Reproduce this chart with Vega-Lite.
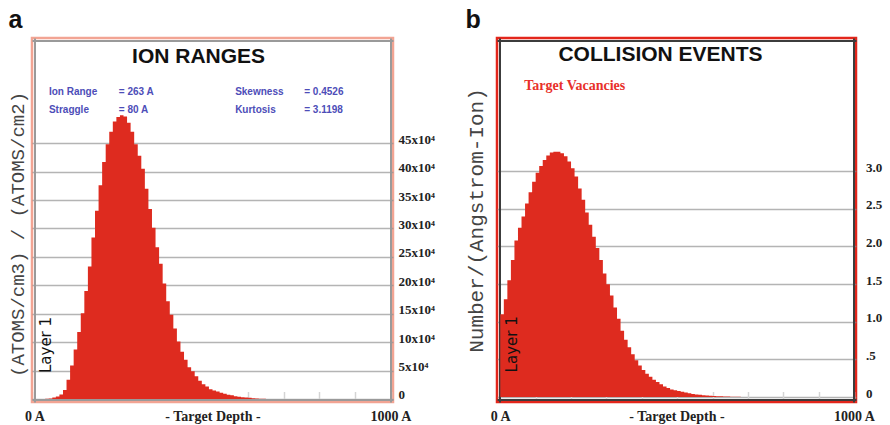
{
  "$schema": "https://vega.github.io/schema/vega-lite/v6.json",
  "background": "white",
  "padding": {"left": 7, "top": 6, "right": 0, "bottom": 0},
  "spacing": 28,
  "config": {"axis": {"zindex": 1, "minExtent": 0}},
  "datasets": {
    "ions": [
      {"depth": 0, "value": 0}, {"depth": 10, "value": 0}, {"depth": 20, "value": 0}, {"depth": 30, "value": 0.03},
      {"depth": 40, "value": 0.1}, {"depth": 50, "value": 0.25}, {"depth": 60, "value": 0.45}, {"depth": 70, "value": 0.8},
      {"depth": 80, "value": 1.6}, {"depth": 90, "value": 3.4}, {"depth": 100, "value": 5.9}, {"depth": 110, "value": 8.7},
      {"depth": 120, "value": 11.8}, {"depth": 130, "value": 15.1}, {"depth": 140, "value": 19.0}, {"depth": 150, "value": 23.3},
      {"depth": 160, "value": 28.4}, {"depth": 170, "value": 33.1}, {"depth": 180, "value": 37.6}, {"depth": 190, "value": 41.7},
      {"depth": 200, "value": 44.8}, {"depth": 210, "value": 47.0}, {"depth": 220, "value": 48.8}, {"depth": 230, "value": 49.6},
      {"depth": 240, "value": 49.9}, {"depth": 250, "value": 49.7}, {"depth": 260, "value": 48.6}, {"depth": 270, "value": 47.0},
      {"depth": 280, "value": 44.8}, {"depth": 290, "value": 42.8}, {"depth": 300, "value": 40.5}, {"depth": 310, "value": 37.0},
      {"depth": 320, "value": 33.4}, {"depth": 330, "value": 30.1}, {"depth": 340, "value": 26.7}, {"depth": 350, "value": 23.8},
      {"depth": 360, "value": 20.3}, {"depth": 370, "value": 17.2}, {"depth": 380, "value": 14.8}, {"depth": 390, "value": 12.4},
      {"depth": 400, "value": 10.1}, {"depth": 410, "value": 8.3}, {"depth": 420, "value": 6.9}, {"depth": 430, "value": 5.6},
      {"depth": 440, "value": 4.9}, {"depth": 450, "value": 4.0}, {"depth": 460, "value": 3.2}, {"depth": 470, "value": 2.6},
      {"depth": 480, "value": 2.2}, {"depth": 490, "value": 1.7}, {"depth": 500, "value": 1.5}, {"depth": 510, "value": 1.3},
      {"depth": 520, "value": 1.1}, {"depth": 530, "value": 0.9}, {"depth": 540, "value": 0.75}, {"depth": 550, "value": 0.65},
      {"depth": 560, "value": 0.5}, {"depth": 570, "value": 0.4}, {"depth": 580, "value": 0.3}, {"depth": 590, "value": 0.25},
      {"depth": 600, "value": 0.2}, {"depth": 610, "value": 0.15}, {"depth": 620, "value": 0.1}, {"depth": 630, "value": 0.06},
      {"depth": 640, "value": 0.03}, {"depth": 650, "value": 0}, {"depth": 660, "value": 0}, {"depth": 670, "value": 0},
      {"depth": 680, "value": 0}, {"depth": 690, "value": 0}, {"depth": 700, "value": 0}, {"depth": 710, "value": 0},
      {"depth": 720, "value": 0}, {"depth": 730, "value": 0}, {"depth": 740, "value": 0}, {"depth": 750, "value": 0},
      {"depth": 760, "value": 0}, {"depth": 770, "value": 0}, {"depth": 780, "value": 0}, {"depth": 790, "value": 0},
      {"depth": 800, "value": 0}, {"depth": 810, "value": 0}, {"depth": 820, "value": 0}, {"depth": 830, "value": 0},
      {"depth": 840, "value": 0}, {"depth": 850, "value": 0}, {"depth": 860, "value": 0}, {"depth": 870, "value": 0},
      {"depth": 880, "value": 0}, {"depth": 890, "value": 0}, {"depth": 900, "value": 0}, {"depth": 910, "value": 0},
      {"depth": 920, "value": 0}, {"depth": 930, "value": 0}, {"depth": 940, "value": 0}, {"depth": 950, "value": 0},
      {"depth": 960, "value": 0}, {"depth": 970, "value": 0}, {"depth": 980, "value": 0}, {"depth": 990, "value": 0},
      {"depth": 1000, "value": 0}
    ],
    "vac": [
      {"depth": 0, "value": 1.1}, {"depth": 10, "value": 1.3}, {"depth": 20, "value": 1.55}, {"depth": 30, "value": 1.82},
      {"depth": 40, "value": 2.08}, {"depth": 50, "value": 2.25}, {"depth": 60, "value": 2.40}, {"depth": 70, "value": 2.57},
      {"depth": 80, "value": 2.72}, {"depth": 90, "value": 2.86}, {"depth": 100, "value": 2.98}, {"depth": 110, "value": 3.07},
      {"depth": 120, "value": 3.15}, {"depth": 130, "value": 3.21}, {"depth": 140, "value": 3.25}, {"depth": 150, "value": 3.26},
      {"depth": 160, "value": 3.26}, {"depth": 170, "value": 3.24}, {"depth": 180, "value": 3.20}, {"depth": 190, "value": 3.13},
      {"depth": 200, "value": 3.04}, {"depth": 210, "value": 2.93}, {"depth": 220, "value": 2.77}, {"depth": 230, "value": 2.62},
      {"depth": 240, "value": 2.45}, {"depth": 250, "value": 2.29}, {"depth": 260, "value": 2.13}, {"depth": 270, "value": 1.98},
      {"depth": 280, "value": 1.82}, {"depth": 290, "value": 1.64}, {"depth": 300, "value": 1.50}, {"depth": 310, "value": 1.35},
      {"depth": 320, "value": 1.19}, {"depth": 330, "value": 1.04}, {"depth": 340, "value": 0.88}, {"depth": 350, "value": 0.76},
      {"depth": 360, "value": 0.66}, {"depth": 370, "value": 0.57}, {"depth": 380, "value": 0.49}, {"depth": 390, "value": 0.42},
      {"depth": 400, "value": 0.36}, {"depth": 410, "value": 0.31}, {"depth": 420, "value": 0.27}, {"depth": 430, "value": 0.23},
      {"depth": 440, "value": 0.20}, {"depth": 450, "value": 0.17}, {"depth": 460, "value": 0.14}, {"depth": 470, "value": 0.12},
      {"depth": 480, "value": 0.10}, {"depth": 490, "value": 0.09}, {"depth": 500, "value": 0.08}, {"depth": 510, "value": 0.07},
      {"depth": 520, "value": 0.06}, {"depth": 530, "value": 0.05}, {"depth": 540, "value": 0.04}, {"depth": 550, "value": 0.035},
      {"depth": 560, "value": 0.03}, {"depth": 570, "value": 0.025}, {"depth": 580, "value": 0.02}, {"depth": 590, "value": 0.018},
      {"depth": 600, "value": 0.015}, {"depth": 610, "value": 0.012}, {"depth": 620, "value": 0.01}, {"depth": 630, "value": 0.008},
      {"depth": 640, "value": 0.006}, {"depth": 650, "value": 0.005}, {"depth": 660, "value": 0.004}, {"depth": 670, "value": 0.003},
      {"depth": 680, "value": 0}, {"depth": 690, "value": 0}, {"depth": 700, "value": 0}, {"depth": 710, "value": 0},
      {"depth": 720, "value": 0}, {"depth": 730, "value": 0}, {"depth": 740, "value": 0}, {"depth": 750, "value": 0},
      {"depth": 760, "value": 0}, {"depth": 770, "value": 0}, {"depth": 780, "value": 0}, {"depth": 790, "value": 0},
      {"depth": 800, "value": 0}, {"depth": 810, "value": 0}, {"depth": 820, "value": 0}, {"depth": 830, "value": 0},
      {"depth": 840, "value": 0}, {"depth": 850, "value": 0}, {"depth": 860, "value": 0}, {"depth": 870, "value": 0},
      {"depth": 880, "value": 0}, {"depth": 890, "value": 0}, {"depth": 900, "value": 0}, {"depth": 910, "value": 0},
      {"depth": 920, "value": 0}, {"depth": 930, "value": 0}, {"depth": 940, "value": 0}, {"depth": 950, "value": 0},
      {"depth": 960, "value": 0}, {"depth": 970, "value": 0}, {"depth": 980, "value": 0}, {"depth": 990, "value": 0},
      {"depth": 1000, "value": 0}
    ]
  },
  "hconcat": [
    {
      "width": 361,
      "height": 364,
      "title": {"text": "a", "anchor": "start", "frame": "bounds", "font": "Liberation Sans", "fontSize": 25, "fontWeight": "bold", "color": "#111111", "baseline": "alphabetic", "offset": -15},
      "view": {"stroke": "#f2a493", "strokeWidth": 2.5, "fill": "white"},
      "resolve": {"axis": {"x": "independent", "y": "independent"}},
      "layer": [
        {
          "data": {"name": "ions"},
          "mark": {"type": "area", "interpolate": "step-after", "color": "#de2b1f"},
          "encoding": {
            "x": {"field": "depth", "type": "quantitative",
              "scale": {"domain": [-7, 1007], "nice": false, "zero": false},
              "axis": {"orient": "bottom", "offset": -2.5, "values": [0, 100, 200, 300, 400, 500, 600, 700, 800, 900, 1000],
                "domainColor": "#9a9a9a", "domainWidth": 2, "tickSize": -8, "tickColor": "#d4d4d4", "tickWidth": 1.5,
                "labelExpr": "datum.value == 0 ? '0 A' : datum.value == 1000 ? '1000 A' : ''",
                "labelFont": "Liberation Serif", "labelFontWeight": "bold", "labelFontSize": 14, "labelColor": "#222222",
                "labelPadding": 18, "labelFlush": false, "labelOverlap": false, "labelBaseline": "top", "grid": false,
                "title": "- Target Depth -", "titleFont": "Liberation Serif", "titleFontWeight": "bold", "titleFontSize": 14,
                "titleColor": "#222222", "titleY": 10, "titleBaseline": "top"}},
            "y": {"field": "value", "type": "quantitative",
              "scale": {"domain": [-0.53, 63.5], "nice": false, "zero": false},
              "axis": {"orient": "right", "offset": -2.5, "values": [0, 5, 10, 15, 20, 25, 30, 35, 40, 45],
                "grid": true, "gridColor": "#8c8c8c", "gridOpacity": 0.65, "gridWidth": 1.5, "ticks": false,
                "domainColor": "#9a9a9a", "domainWidth": 2,
                "labelExpr": "datum.value == 0 ? '0' : datum.value + 'x10⁴'",
                "labelFont": "Liberation Serif", "labelFontWeight": "bold", "labelFontSize": 13, "labelColor": "#222222",
                "labelPadding": 7.5, "labelBaseline": "alphabetic", "labelOverlap": false, "title": null}}
          }
        },
        {
          "data": {"values": [{}]},
          "mark": {"type": "text", "text": "ION RANGES", "font": "Liberation Sans", "fontSize": 21, "fontWeight": "bold", "color": "#111111", "align": "center", "baseline": "middle"},
          "encoding": {
            "x": {"datum": 461, "type": "quantitative",
              "axis": {"orient": "top", "offset": -2.5, "domainColor": "#9a9a9a", "domainWidth": 2, "ticks": false, "labels": false, "grid": false, "title": null, "minExtent": 0, "maxExtent": 0}},
            "y": {"datum": 60.1, "type": "quantitative",
              "axis": {"orient": "left", "offset": -2.5, "domainColor": "#9a9a9a", "domainWidth": 2, "ticks": false, "labels": false, "grid": false,
                "title": "(ATOMS/cm3) / (ATOMS/cm2)", "titleFont": "Liberation Mono", "titleFontSize": 19, "titleFontWeight": "normal",
                "titleColor": "#444444", "titlePadding": 7, "titleY": 196}}
          }
        },
        {
          "data": {"values": [{}]},
          "mark": {"type": "text", "text": ["Ion Range", "Straggle"], "lineHeight": 18, "font": "Liberation Sans", "fontSize": 10, "fontWeight": "bold", "color": "#4d4db8", "align": "left", "baseline": "middle"},
          "encoding": {"x": {"datum": 40.6, "type": "quantitative", "axis": null}, "y": {"datum": 54.0, "type": "quantitative", "axis": null}}
        },
        {
          "data": {"values": [{}]},
          "mark": {"type": "text", "text": ["=  263 A", "=  80 A"], "lineHeight": 18, "font": "Liberation Sans", "fontSize": 10, "fontWeight": "bold", "color": "#4d4db8", "align": "left", "baseline": "middle"},
          "encoding": {"x": {"datum": 236.7, "type": "quantitative", "axis": null}, "y": {"datum": 54.0, "type": "quantitative", "axis": null}}
        },
        {
          "data": {"values": [{}]},
          "mark": {"type": "text", "text": ["Skewness", "Kurtosis"], "lineHeight": 18, "font": "Liberation Sans", "fontSize": 10, "fontWeight": "bold", "color": "#4d4db8", "align": "left", "baseline": "middle"},
          "encoding": {"x": {"datum": 563.6, "type": "quantitative", "axis": null}, "y": {"datum": 54.0, "type": "quantitative", "axis": null}}
        },
        {
          "data": {"values": [{}]},
          "mark": {"type": "text", "text": ["= 0.4526", "= 3.1198"], "lineHeight": 18, "font": "Liberation Sans", "fontSize": 10, "fontWeight": "bold", "color": "#4d4db8", "align": "left", "baseline": "middle"},
          "encoding": {"x": {"datum": 757.7, "type": "quantitative", "axis": null}, "y": {"datum": 54.0, "type": "quantitative", "axis": null}}
        },
        {
          "data": {"values": [{}]},
          "mark": {"type": "text", "text": "Layer 1", "angle": 270, "font": "DejaVu Sans", "fontSize": 15, "color": "#111111", "align": "center", "baseline": "middle"},
          "encoding": {"x": {"datum": 33.6, "type": "quantitative", "axis": null}, "y": {"datum": 9.5, "type": "quantitative", "axis": null}}
        }
      ]
    },
    {
      "width": 359,
      "height": 364,
      "title": {"text": "b", "anchor": "start", "frame": "bounds", "font": "Liberation Sans", "fontSize": 25, "fontWeight": "bold", "color": "#111111", "baseline": "alphabetic", "offset": -15},
      "view": {"stroke": "#e3261b", "strokeWidth": 2.5, "fill": "white"},
      "resolve": {"axis": {"x": "independent", "y": "independent"}},
      "layer": [
        {
          "data": {"name": "vac"},
          "mark": {"type": "area", "interpolate": "step-after", "color": "#de2b1f"},
          "encoding": {
            "x": {"field": "depth", "type": "quantitative",
              "scale": {"domain": [-9.3, 1005.6], "nice": false, "zero": false},
              "axis": {"orient": "bottom", "offset": -2.5, "values": [0, 100, 200, 300, 400, 500, 600, 700, 800, 900, 1000],
                "domainColor": "#3c3c3c", "domainWidth": 2, "tickSize": -8, "tickColor": "#d4d4d4", "tickWidth": 1.5,
                "labelExpr": "datum.value == 0 ? '0 A' : datum.value == 1000 ? '1000 A' : ''",
                "labelFont": "Liberation Serif", "labelFontWeight": "bold", "labelFontSize": 14, "labelColor": "#222222",
                "labelPadding": 18, "labelFlush": false, "labelOverlap": false, "labelBaseline": "top", "grid": false,
                "title": "- Target Depth -", "titleFont": "Liberation Serif", "titleFontWeight": "bold", "titleFontSize": 14,
                "titleColor": "#222222", "titleY": 10, "titleBaseline": "top"}},
            "y": {"field": "value", "type": "quantitative",
              "scale": {"domain": [-0.066, 4.77], "nice": false, "zero": false},
              "axis": {"orient": "right", "offset": -2.5, "values": [0, 0.5, 1, 1.5, 2, 2.5, 3],
                "grid": true, "gridColor": "#8c8c8c", "gridOpacity": 0.65, "gridWidth": 1.5, "ticks": false,
                "domainColor": "#3c3c3c", "domainWidth": 2,
                "labelExpr": "datum.value == 0 ? '0' : datum.value == 0.5 ? '.5' : format(datum.value, '.1f')",
                "labelFont": "Liberation Serif", "labelFontWeight": "bold", "labelFontSize": 13, "labelColor": "#222222",
                "labelPadding": 12, "labelBaseline": "alphabetic", "labelOverlap": false, "title": null}}
          }
        },
        {
          "data": {"values": [{}]},
          "mark": {"type": "text", "text": "COLLISION EVENTS", "font": "Liberation Sans", "fontSize": 21, "fontWeight": "bold", "color": "#111111", "align": "center", "baseline": "middle"},
          "encoding": {
            "x": {"datum": 453, "type": "quantitative",
              "axis": {"orient": "top", "offset": -2.5, "domainColor": "#3c3c3c", "domainWidth": 2, "ticks": false, "labels": false, "grid": false, "title": null, "minExtent": 0, "maxExtent": 0}},
            "y": {"datum": 4.54, "type": "quantitative",
              "axis": {"orient": "left", "offset": -2.5, "domainColor": "#3c3c3c", "domainWidth": 2, "ticks": false, "labels": false, "grid": false,
                "title": "Number/(Angstrom-Ion)", "titleFont": "Liberation Mono", "titleFontSize": 21, "titleFontWeight": "normal",
                "titleColor": "#444444", "titlePadding": 13}}
          }
        },
        {
          "data": {"values": [{}]},
          "mark": {"type": "text", "text": "Target Vacancies", "font": "Liberation Serif", "fontSize": 14, "fontWeight": "bold", "color": "#e8302a", "align": "left", "baseline": "middle"},
          "encoding": {"x": {"datum": 67.8, "type": "quantitative", "axis": null}, "y": {"datum": 4.13, "type": "quantitative", "axis": null}}
        },
        {
          "data": {"values": [{}]},
          "mark": {"type": "text", "text": "Layer 1", "angle": 270, "font": "DejaVu Sans", "fontSize": 15, "color": "#111111", "align": "center", "baseline": "middle"},
          "encoding": {"x": {"datum": 32.5, "type": "quantitative", "axis": null}, "y": {"datum": 0.70, "type": "quantitative", "axis": null}}
        }
      ]
    }
  ]
}
